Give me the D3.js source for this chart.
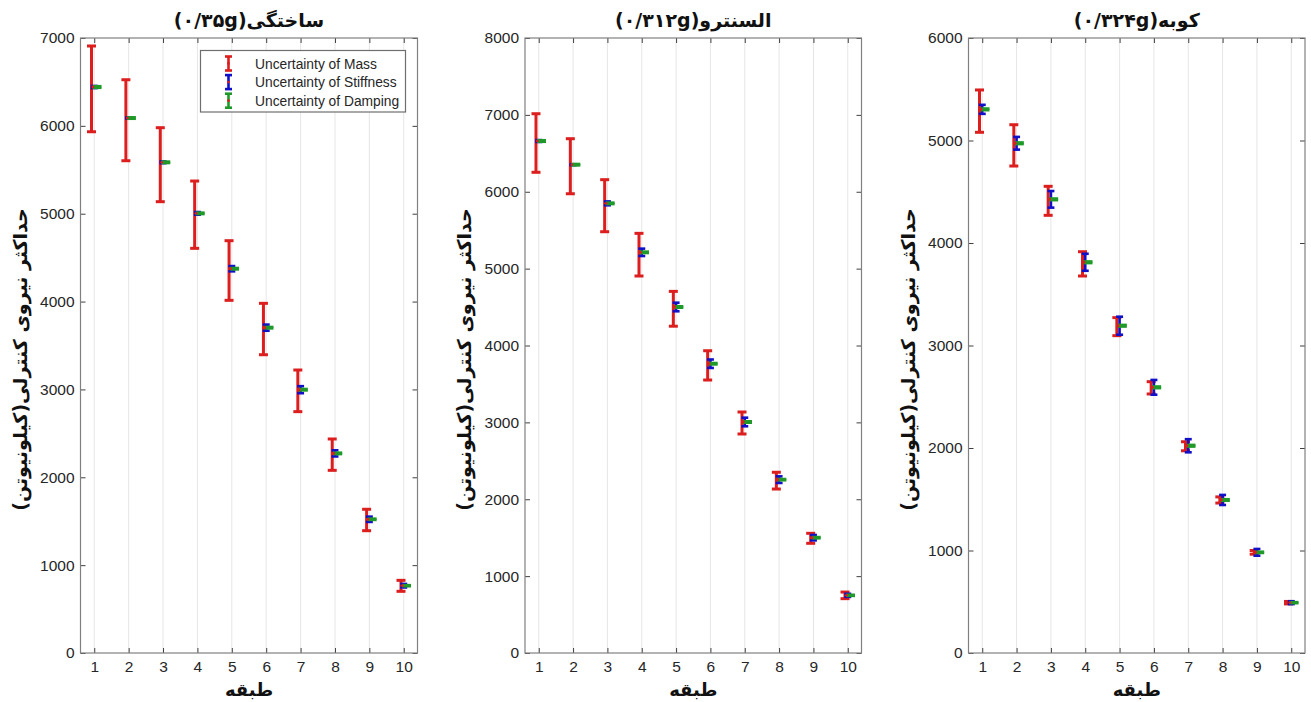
<!DOCTYPE html>
<html>
<head>
<meta charset="utf-8">
<script src="https://cdn.jsdelivr.net/npm/d3@7"></script>
<style>
body { margin: 0; background: #fff; }
</style>
</head>
<body>
<script>
const w = 1311;
const h = 702;

const floors = [1, 2, 3, 4, 5, 6, 7, 8, 9, 10];
const titles = ["ساختگی(۰/۳۵g)", "السنترو(۰/۳۱۲g)", "کوبه(۰/۳۲۴g)"];
const yMax = [7000, 8000, 6000];
const yLabel = "حداکثر نیروی کنترلی(کیلونیوتن)";
const xLabel = "طبقه";
const legendNames = ["Uncertainty of Mass", "Uncertainty of Stiffness", "Uncertainty of Damping"];

// ساختگی
const centerA = [6442, 6089, 5585, 5004, 4374, 3703, 2997, 2272, 1522, 766];
const massHighA = [6909, 6525, 5979, 5372, 4693, 3980, 3221, 2436, 1636, 827];
const massLowA = [5933, 5603, 5137, 4606, 4014, 3395, 2747, 2079, 1392, 702];
const stiffErrA = [12, 6, 10, 15, 30, 35, 40, 35, 30, 20];
const dampErrA = [9, 8, 8, 8, 8, 8, 8, 8, 7, 6];

// السنترو
const centerB = [6660, 6352, 5849, 5212, 4501, 3763, 3005, 2255, 1500, 750];
const massHighB = [7015, 6690, 6157, 5459, 4704, 3932, 3135, 2351, 1557, 793];
const massLowB = [6253, 5974, 5480, 4904, 4251, 3551, 2849, 2133, 1427, 707];
const stiffErrB = [12, 6, 25, 48, 56, 55, 56, 43, 35, 20];
const dampErrB = [10, 9, 9, 9, 9, 9, 9, 8, 8, 7];

// کوبه
const centerC = [5304, 4973, 4426, 3812, 3193, 2592, 2022, 1493, 982, 491];
const massHighC = [5493, 5154, 4553, 3915, 3272, 2647, 2061, 1523, 1000, 503];
const massLowC = [5080, 4751, 4270, 3678, 3096, 2527, 1973, 1463, 964, 479];
const stiffErrC = [44, 62, 81, 83, 88, 72, 64, 49, 33, 14];
const dampErrC = [8, 8, 8, 8, 8, 8, 8, 7, 6, 5];

const panelData = [
	{center: centerA, massHigh: massHighA, massLow: massLowA, stiff: stiffErrA, damp: dampErrA},
	{center: centerB, massHigh: massHighB, massLow: massLowB, stiff: stiffErrB, damp: dampErrB},
	{center: centerC, massHigh: massHighC, massLow: massLowC, stiff: stiffErrC, damp: dampErrC}
];

const lefts = [80.5, 525, 968.5];
const rights = [417.5, 861.5, 1305];
const plotTop = 38;
const plotBottom = 653;

const red = "#dc1e1e";
const blue = "#1010c8";
const green = "#1f9a2a";
const axisColor = "#808080";
const textColor = "#262626";

const svg = d3.select("body")
	.append("svg")
	.attr("width", w)
	.attr("height", h);

function errorbar(g, x, lo, hi, color, cap, lw) {
	g.append("line")
		.attr("x1", x).attr("x2", x)
		.attr("y1", lo).attr("y2", hi)
		.attr("stroke", color).attr("stroke-width", lw);
	[lo, hi].forEach((yy) => {
		g.append("line")
			.attr("x1", x - cap).attr("x2", x + cap)
			.attr("y1", yy).attr("y2", yy)
			.attr("stroke", color).attr("stroke-width", lw);
	});
}

panelData.forEach((d, i) => {
	const g = svg.append("g");
	const xScale = d3.scaleLinear().domain([0.6, 10.4]).range([lefts[i], rights[i]]);
	const yScale = d3.scaleLinear().domain([0, yMax[i]]).range([plotBottom, plotTop]);
	const yTicks = d3.range(0, yMax[i] + 1, 1000);

	// vertical grid
	g.selectAll(".grid")
		.data(floors)
		.enter()
		.append("line")
		.attr("x1", (f) => xScale(f)).attr("x2", (f) => xScale(f))
		.attr("y1", plotTop).attr("y2", plotBottom)
		.attr("stroke", "#e6e6e6").attr("stroke-width", 1);

	// axes with inward ticks
	const xAxis = g.append("g")
		.attr("transform", "translate(0," + plotBottom + ")")
		.call(d3.axisBottom(xScale).tickValues(floors).tickSize(-5).tickPadding(8));
	const xTop = g.append("g")
		.attr("transform", "translate(0," + plotTop + ")")
		.call(d3.axisTop(xScale).tickValues(floors).tickSize(-5).tickFormat(""));
	const yAxis = g.append("g")
		.attr("transform", "translate(" + lefts[i] + ",0)")
		.call(d3.axisLeft(yScale).tickValues(yTicks).tickSize(-5).tickPadding(6).tickFormat(d3.format("d")));
	const yRight = g.append("g")
		.attr("transform", "translate(" + rights[i] + ",0)")
		.call(d3.axisRight(yScale).tickValues(yTicks).tickSize(-5).tickFormat(""));

	[xAxis, xTop, yAxis, yRight].forEach((a) => {
		a.select(".domain").remove();
		a.selectAll(".tick line").attr("stroke", "#404040");
		a.selectAll("text")
			.attr("fill", textColor)
			.style("font-family", "'Liberation Sans', Arial, sans-serif")
			.style("font-size", "15.5px");
	});

	g.append("rect")
		.attr("x", lefts[i]).attr("y", plotTop)
		.attr("width", rights[i] - lefts[i]).attr("height", plotBottom - plotTop)
		.attr("fill", "none").attr("stroke", axisColor).attr("stroke-width", 1.2);

	// error bars
	floors.forEach((f, k) => {
		const c = d.center[k];
		errorbar(g, xScale(f - 0.08), yScale(d.massLow[k]), yScale(d.massHigh[k]), red, 4.5, 3);
		errorbar(g, xScale(f), yScale(c - d.stiff[k]), yScale(c + d.stiff[k]), blue, 3.5, 2.6);
		errorbar(g, xScale(f + 0.08), yScale(c - d.damp[k]), yScale(c + d.damp[k]), green, 4.5, 2.6);
		g.append("circle")
			.attr("cx", xScale(f - 0.04)).attr("cy", yScale(c))
			.attr("r", 1.4).attr("fill", red);
	});

	const midX = (lefts[i] + rights[i]) / 2;
	g.append("text")
		.attr("x", midX).attr("y", 27)
		.attr("text-anchor", "middle")
		.attr("direction", "rtl")
		.style("font-family", "'DejaVu Sans', sans-serif")
		.style("font-weight", "bold")
		.style("font-size", "19px")
		.attr("fill", "#111")
		.text(titles[i]);

	g.append("text")
		.attr("x", midX).attr("y", 696)
		.attr("text-anchor", "middle")
		.attr("direction", "rtl")
		.style("font-family", "'DejaVu Sans', sans-serif")
		.style("font-weight", "bold")
		.style("font-size", "18px")
		.attr("fill", "#111")
		.text(xLabel);

	g.append("text")
		.attr("transform", "translate(" + (lefts[i] - 54) + "," + ((plotTop + plotBottom) / 2 + 14) + ") rotate(-90)")
		.attr("text-anchor", "middle")
		.attr("direction", "rtl")
		.style("font-family", "'DejaVu Sans', sans-serif")
		.style("font-weight", "bold")
		.style("font-size", "19px")
		.attr("fill", "#111")
		.text(yLabel);

	// legend only in the first panel
	if (i === 0) {
		const lg = g.append("g");
		lg.append("rect")
			.attr("x", 200.5).attr("y", 50.5)
			.attr("width", 205).attr("height", 61.5)
			.attr("fill", "#fff").attr("stroke", "#6e6e6e").attr("stroke-width", 1.2);
		const cols = [red, blue, green];
		legendNames.forEach((name, j) => {
			const yy = 63.5 + j * 18.6;
			errorbar(lg, 228.5, yy + 7, yy - 7, cols[j], 3.5, 2.6);
			lg.append("circle").attr("cx", 228.5).attr("cy", yy).attr("r", 1.4).attr("fill", red);
			lg.append("text")
				.attr("x", 255).attr("y", yy + 5)
				.style("font-family", "'Liberation Sans', Arial, sans-serif")
				.style("font-size", "13.8px")
				.attr("fill", textColor)
				.text(name);
		});
	}
});
</script>
</body>
</html>
